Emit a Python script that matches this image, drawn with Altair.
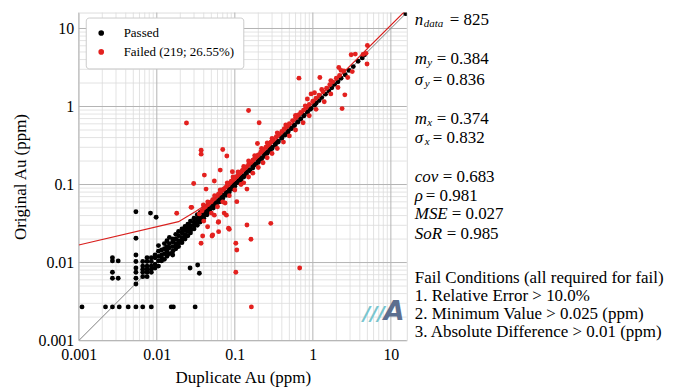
import altair as alt
import pandas as pd

# ---------------- data (Duplicate Au, Original Au) in ppm ----------------
passed_floor = [(0.0011, 0.0027), (0.0022, 0.0027), (0.0027, 0.0027), (0.0033, 0.0027),
                (0.0043, 0.0027), (0.0054, 0.0027), (0.0066, 0.0027), (0.0085, 0.0027),
                (0.0153, 0.0027), (0.0163, 0.0027), (0.031, 0.0027)]

passed_low = [(0.0027, 0.0115), (0.0027, 0.0105), (0.0027, 0.0075), (0.0027, 0.0063),
              (0.0032, 0.0105), (0.0032, 0.0063),
              (0.0054, 0.0053), (0.0054, 0.0063), (0.0054, 0.0075), (0.0054, 0.0085),
              (0.0054, 0.0103), (0.0054, 0.0125), (0.0054, 0.0205), (0.0054, 0.0448),
              (0.0066, 0.0066), (0.0066, 0.0075), (0.0066, 0.0082), (0.0066, 0.009), (0.0066, 0.0103),
              (0.0075, 0.0066), (0.0075, 0.0075), (0.0075, 0.0082), (0.0075, 0.009),
              (0.0075, 0.0103), (0.0075, 0.0115),
              (0.0085, 0.0075), (0.0085, 0.0082), (0.0085, 0.009), (0.0085, 0.0103), (0.0085, 0.0115),
              (0.0083, 0.043), (0.0098, 0.038),
              (0.0267, 0.0085), (0.0334, 0.0093), (0.0351, 0.0073)]

passed_band = [(0.0095, 0.0085), (0.0095, 0.0095), (0.0095, 0.0115), (0.0095, 0.0125),
               (0.0105, 0.009), (0.0105, 0.0105), (0.0105, 0.012), (0.0105, 0.014), (0.0105, 0.0165),
               (0.0115, 0.0105), (0.0115, 0.0125), (0.0115, 0.0145), (0.0115, 0.0115),
               (0.0125, 0.011), (0.0125, 0.013), (0.0125, 0.015), (0.0125, 0.0175),
               (0.0135, 0.012), (0.0135, 0.0145), (0.0135, 0.016), (0.0135, 0.019), (0.0135, 0.0135),
               (0.0145, 0.013), (0.0145, 0.0155), (0.0145, 0.0175), (0.0145, 0.021),
               (0.016, 0.014), (0.016, 0.016), (0.016, 0.0185), (0.016, 0.02), (0.016, 0.0125),
               (0.0175, 0.015), (0.0175, 0.0175), (0.0175, 0.02), (0.0175, 0.023), (0.0175, 0.0165),
               (0.019, 0.016), (0.019, 0.019), (0.019, 0.022), (0.019, 0.025), (0.019, 0.0175),
               (0.021, 0.018), (0.021, 0.021), (0.021, 0.024), (0.021, 0.027), (0.021, 0.0195),
               (0.023, 0.02), (0.023, 0.023), (0.023, 0.026), (0.023, 0.029), (0.023, 0.0215),
               (0.025, 0.022), (0.025, 0.025), (0.025, 0.028), (0.025, 0.031),
               (0.027, 0.024), (0.027, 0.027), (0.027, 0.03), (0.027, 0.034), (0.027, 0.0255),
               (0.03, 0.027), (0.03, 0.03), (0.03, 0.033), (0.03, 0.037),
               (0.033, 0.03), (0.033, 0.033), (0.033, 0.036), (0.033, 0.041), (0.033, 0.0315),
               (0.036, 0.033), (0.036, 0.036), (0.036, 0.039), (0.036, 0.044),
               (0.04, 0.037), (0.04, 0.04), (0.04, 0.043), (0.04, 0.048),
               (0.044, 0.041), (0.044, 0.044), (0.044, 0.047), (0.044, 0.052),
               (0.048, 0.045), (0.048, 0.048), (0.048, 0.051),
               (0.053, 0.05), (0.053, 0.053), (0.053, 0.056),
               (0.058, 0.055), (0.058, 0.058), (0.058, 0.061),
               (0.064, 0.06), (0.064, 0.064), (0.064, 0.067),
               (0.07, 0.066), (0.07, 0.07), (0.07, 0.073),
               (0.077, 0.073), (0.077, 0.077), (0.077, 0.08),
               (0.085, 0.08), (0.085, 0.085), (0.085, 0.088),
               (0.093, 0.088), (0.093, 0.093), (0.093, 0.097),
               (0.1, 0.095), (0.1, 0.1), (0.1, 0.104),
               (0.11, 0.105), (0.11, 0.11), (0.11, 0.114),
               (0.12, 0.114), (0.12, 0.12), (0.12, 0.125),
               (0.13, 0.125), (0.13, 0.13),
               (0.14, 0.135), (0.14, 0.14), (0.14, 0.146),
               (0.155, 0.15), (0.155, 0.155),
               (0.17, 0.163), (0.17, 0.17), (0.17, 0.176),
               (0.185, 0.18), (0.185, 0.185),
               (0.2, 0.192), (0.2, 0.2), (0.2, 0.207),
               (0.22, 0.213), (0.22, 0.22),
               (0.24, 0.23), (0.24, 0.24), (0.24, 0.248),
               (0.26, 0.252), (0.26, 0.26),
               (0.28, 0.27), (0.28, 0.28), (0.28, 0.29),
               (0.3, 0.29), (0.3, 0.3),
               (0.33, 0.32), (0.33, 0.33), (0.33, 0.34),
               (0.36, 0.35), (0.36, 0.36),
               (0.4, 0.39), (0.4, 0.4), (0.4, 0.41),
               (0.44, 0.43), (0.44, 0.44),
               (0.48, 0.47), (0.48, 0.48), (0.48, 0.49),
               (0.53, 0.52), (0.53, 0.53), (0.58, 0.57), (0.58, 0.58),
               (0.64, 0.63), (0.64, 0.64), (0.7, 0.69), (0.7, 0.7),
               (0.77, 0.76), (0.77, 0.77), (0.85, 0.84), (0.85, 0.86),
               (0.93, 0.92), (0.95, 0.95), (1.05, 1.04), (1.1, 1.1),
               (1.2, 1.19), (1.3, 1.3), (1.45, 1.44), (1.6, 1.58),
               (1.75, 1.74), (1.9, 1.92), (2.1, 2.08), (2.3, 2.3),
               (2.6, 2.55), (2.9, 2.9), (3.3, 3.25), (3.8, 3.8),
               (4.3, 4.2), (4.6, 4.6), (15.5, 15.5)]

failed_upper = [(0.035, 0.042), (0.038, 0.046), (0.04, 0.05), (0.042, 0.052), (0.045, 0.055),
                (0.047, 0.058), (0.05, 0.06), (0.052, 0.064), (0.055, 0.066), (0.057, 0.07),
                (0.06, 0.072), (0.062, 0.076), (0.065, 0.078), (0.068, 0.083), (0.07, 0.086),
                (0.073, 0.088), (0.076, 0.092), (0.08, 0.097), (0.083, 0.1), (0.087, 0.105),
                (0.09, 0.11), (0.095, 0.115), (0.1, 0.12), (0.105, 0.126), (0.11, 0.132),
                (0.115, 0.14), (0.12, 0.145), (0.125, 0.152), (0.13, 0.158), (0.14, 0.168),
                (0.15, 0.18), (0.16, 0.192), (0.17, 0.205), (0.18, 0.218), (0.19, 0.23),
                (0.2, 0.24), (0.215, 0.26), (0.23, 0.28), (0.25, 0.3), (0.27, 0.325),
                (0.29, 0.35), (0.31, 0.375), (0.34, 0.41), (0.37, 0.44), (0.4, 0.48),
                (0.43, 0.52), (0.47, 0.56), (0.5, 0.6), (0.55, 0.66), (0.6, 0.72),
                (0.65, 0.78), (0.7, 0.84), (0.76, 0.9), (0.82, 0.97), (0.9, 1.06),
                (1.0, 1.17), (1.1, 1.28), (1.2, 1.4), (1.35, 1.55), (1.5, 1.72),
                (1.65, 1.9), (1.8, 2.07), (2.0, 2.3), (2.2, 2.5), (2.5, 2.85),
                (0.045, 0.06), (0.055, 0.072), (0.065, 0.085), (0.08, 0.105), (0.095, 0.125),
                (0.11, 0.145), (0.13, 0.17), (0.15, 0.2), (0.18, 0.235), (0.22, 0.29),
                (0.26, 0.34), (0.3, 0.39), (0.35, 0.46), (0.45, 0.58), (0.6, 0.77),
                (0.8, 1.02), (1.3, 1.65), (1.7, 2.15), (2.3, 2.9)]

failed_lower = [(0.04, 0.034), (0.05, 0.043), (0.06, 0.052), (0.07, 0.06), (0.075, 0.058),
                (0.085, 0.072), (0.1, 0.085), (0.12, 0.1), (0.13, 0.105), (0.15, 0.125),
                (0.17, 0.14), (0.2, 0.165), (0.23, 0.19), (0.26, 0.22), (0.3, 0.25),
                (0.35, 0.29), (0.42, 0.35), (0.5, 0.42), (0.6, 0.5), (0.75, 0.62),
                (0.9, 0.76), (1.1, 0.92), (1.4, 1.15), (1.7, 1.45), (2.1, 1.75),
                (2.8, 2.35), (3.2, 2.8)]

failed_outliers = [(0.024, 0.614), (0.15, 0.89), (0.205, 0.62), (0.037, 0.275), (0.037, 0.245),
                   (0.07, 0.281), (0.079, 0.232), (0.065, 0.153), (0.0407, 0.132), (0.0546, 0.111),
                   (0.0297, 0.103), (0.0428, 0.0874), (0.028, 0.051), (0.143, 0.0874), (0.093, 0.146),
                   (0.195, 0.335), (0.018, 0.0428), (0.0275, 0.051), (0.0395, 0.0546), (0.0448, 0.0288),
                   (0.062, 0.0334), (0.062, 0.0249), (0.051, 0.0219), (0.0369, 0.0177), (0.0848, 0.0267),
                   (0.0387, 0.0219), (0.143, 0.0303), (0.289, 0.0318), (0.161, 0.0199), (0.103, 0.0177),
                   (0.106, 0.0145), (0.103, 0.0075), (0.678, 0.0085), (0.073, 0.043), (0.078, 0.0405),
                   (0.0546, 0.0405), (0.106, 0.0603), (0.0614, 0.0328), (0.083, 0.0275), (0.052, 0.0226),
                   (0.163, 0.0027), (0.664, 2.31), (1.23, 2.35), (2.37, 0.94), (2.57, 1.41),
                   (5.0, 6.05), (3.1, 4.6), (3.5, 4.7), (4.4, 4.65), (4.8, 4.8), (4.95, 3.5),
                   (2.15, 3.16), (0.95, 1.45), (1.05, 1.5), (0.85, 1.25)]

one_to_one_x = [0.001, 16]
one_to_one_y = [0.001, 16]
fail_line_x = [0.001, 0.019, 0.031, 0.05, 0.07, 0.1, 16]
fail_line_y = [0.0168, 0.0334, 0.0448, 0.061, 0.081, 0.112, 17.6]

major_ticks = [0.001, 0.01, 0.1, 1, 10]
minor_mult = [2, 3, 4, 5, 6, 7, 8, 9]

labels = ["Passed", "Failed (219; 26.55%)"]
colors = ["#000000", "#e3211f"]

stats = [("n", "data", "= 825"), ("m", "y", "= 0.384"), ("σ", "y", "= 0.836"),
         ("m", "x", "= 0.374"), ("σ", "x", "= 0.832"), ("cov", "", "= 0.683"),
         ("ρ", "", "= 0.981"), ("MSE", "", "= 0.027"), ("SoR", "", "= 0.985")]
fail_lines = ["Fail Conditions (all required for fail)", "1. Relative Error > 10.0%",
              "2. Minimum Value > 0.025 (ppm)", "3. Absolute Difference > 0.01 (ppm)"]

# ---------------- build ----------------
FONT = "Liberation Serif"
W = H = 329
DOMAIN = [0.001, 16]

rows = [{"dup": a, "orig": b, "status": labels[0]} for a, b in passed_floor + passed_low + passed_band]
rows += [{"dup": a, "orig": b, "status": labels[1]} for a, b in failed_upper + failed_lower + failed_outliers]
pts = pd.DataFrame(rows)

minor_ticks = [m * t for t in major_ticks for m in minor_mult if m * t <= DOMAIN[1]]

xs = alt.Scale(type="log", domain=DOMAIN, nice=False, zero=False)
ys = alt.Scale(type="log", domain=DOMAIN, nice=False, zero=False)

xaxis = alt.Axis(values=major_ticks, format="~g", grid=False, ticks=False, domain=False,
                 labelFont=FONT, labelFontSize=16, labelColor="black", labelFlush=False,
                 labelOverlap=False, labelPadding=6, titleFont=FONT, titleFontSize=17,
                 titleFontWeight="normal", titleColor="black", titlePadding=7)
yaxis = alt.Axis(values=major_ticks, format="~g", grid=False, ticks=False, domain=False,
                 labelFont=FONT, labelFontSize=16, labelColor="black", labelFlush=False,
                 labelOverlap=False, labelPadding=5, titleFont=FONT, titleFontSize=17,
                 titleFontWeight="normal", titleColor="black", titlePadding=8)
XT = "Duplicate Au (ppm)"
YT = "Original Au (ppm)"

grid_minor_x = alt.Chart(pd.DataFrame({"v": minor_ticks})).mark_rule(color="#dcdcdc", strokeWidth=0.8).encode(
    x=alt.X("v:Q", scale=xs, axis=xaxis, title=XT))
grid_minor_y = alt.Chart(pd.DataFrame({"v": minor_ticks})).mark_rule(color="#dcdcdc", strokeWidth=0.8).encode(
    y=alt.Y("v:Q", scale=ys, axis=yaxis, title=YT))
grid_major_x = alt.Chart(pd.DataFrame({"v": major_ticks})).mark_rule(color="#b4b4b4", strokeWidth=1).encode(
    x=alt.X("v:Q", scale=xs, axis=xaxis, title=XT))
grid_major_y = alt.Chart(pd.DataFrame({"v": major_ticks})).mark_rule(color="#b4b4b4", strokeWidth=1).encode(
    y=alt.Y("v:Q", scale=ys, axis=yaxis, title=YT))

line11 = alt.Chart(pd.DataFrame({"x": one_to_one_x, "y": one_to_one_y})).mark_line(
    color="#808080", strokeWidth=1, clip=True).encode(
    x=alt.X("x:Q", scale=xs, axis=xaxis, title=XT), y=alt.Y("y:Q", scale=ys, axis=yaxis, title=YT))

fail_line = alt.Chart(pd.DataFrame({"x": fail_line_x, "y": fail_line_y})).mark_line(
    color="#d9211f", strokeWidth=1.2, clip=True).encode(
    x=alt.X("x:Q", scale=xs, axis=xaxis, title=XT), y=alt.Y("y:Q", scale=ys, axis=yaxis, title=YT))

points = alt.Chart(pts).mark_circle(size=24, opacity=1, clip=True).encode(
    x=alt.X("dup:Q", scale=xs, axis=xaxis, title=XT),
    y=alt.Y("orig:Q", scale=ys, axis=yaxis, title=YT),
    color=alt.Color("status:N", scale=alt.Scale(domain=labels, range=colors), sort=labels,
                    legend=alt.Legend(title=None, orient="none", legendX=7, legendY=5,
                                      fillColor="white", strokeColor="#cccccc", padding=9,
                                      cornerRadius=3, labelFont=FONT, labelFontSize=13,
                                      labelColor="black", symbolType="circle", symbolSize=32,
                                      symbolStrokeWidth=0, labelOffset=16, rowPadding=5)))


def txt(s, x, y, size=17, style="normal", color="black", weight="normal", font=FONT):
    return alt.Chart(pd.DataFrame({"t": [s]})).mark_text(
        align="left", baseline="middle", font=font, fontSize=size, fontStyle=style,
        fontWeight=weight, color=color).encode(x=alt.value(x), y=alt.value(y), text="t:N")


X0 = 337
ypos = [7, 47, 68, 107, 126, 165, 184, 202, 222]
sub_dx = {"n": 9, "m": 12.5, "σ": 10}
eq_x = {"n": 372, "m": 359, "σ": 355, "cov": 365, "ρ": 348, "MSE": 374, "SoR": 369}
annot = []
for (sym, sub, rest), yy in zip(stats, ypos):
    annot.append(txt(sym, X0, yy, style="italic"))
    if sub:
        annot.append(txt(sub, X0 + sub_dx[sym], yy + 4, size=11, style="italic"))
    annot.append(txt(rest, eq_x[sym], yy))
for s, yy in zip(fail_lines, [266, 284, 302, 320]):
    annot.append(txt(s, X0, yy))

logo = [txt("///", 285, 302, size=20, style="italic", weight="bold", color="#79c6cf", font="DejaVu Sans"),
        txt("A", 306, 300, size=27, style="italic", weight="bold", color="#5d6f8f", font="DejaVu Sans")]

chart = alt.layer(grid_minor_x, grid_minor_y, grid_major_x, grid_major_y, line11, points,
                  fail_line, *logo, *annot).properties(
    width=W, height=H, autosize="none",
    padding={"left": 71, "top": 4, "right": 262, "bottom": 47},
).configure_view(stroke="#333333", strokeWidth=1.3).configure(background="white")

chart.save("out.html", embed_options={"renderer": "svg", "actions": False})
